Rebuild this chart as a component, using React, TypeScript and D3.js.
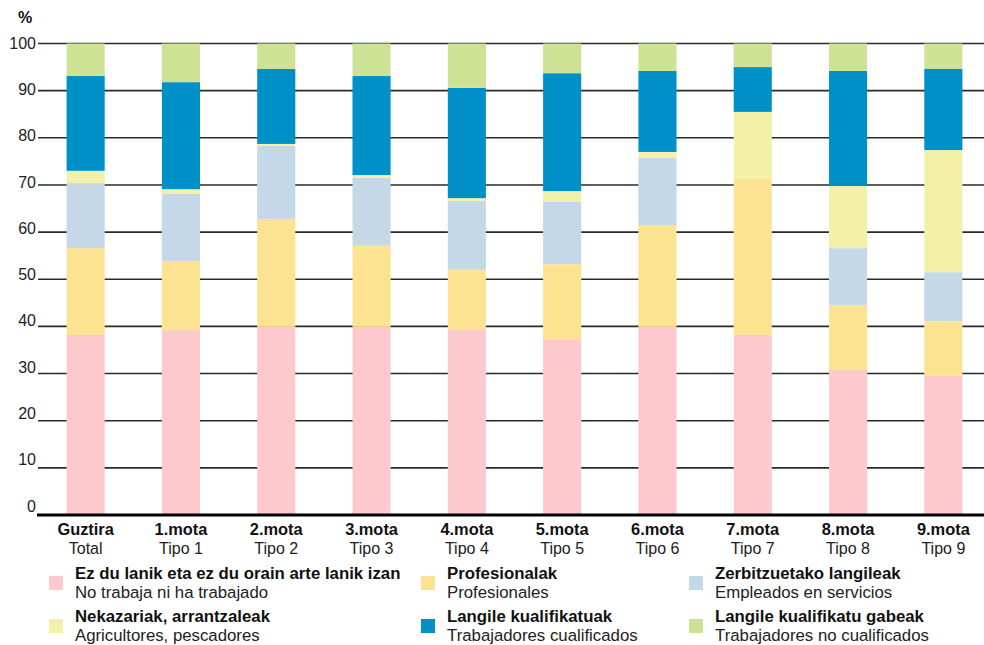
import React from "react";
import * as d3 from "d3";

const categories = ["Guztira", "1.mota", "2.mota", "3.mota", "4.mota", "5.mota", "6.mota", "7.mota", "8.mota", "9.mota"];
const categoriesEs = ["Total", "Tipo 1", "Tipo 2", "Tipo 3", "Tipo 4", "Tipo 5", "Tipo 6", "Tipo 7", "Tipo 8", "Tipo 9"];

const seriesKeys = ["noWork", "prof", "serv", "agri", "skilled", "unskilled"];
const seriesEu = [
  "Ez du lanik eta ez du orain arte lanik izan",
  "Profesionalak",
  "Zerbitzuetako langileak",
  "Nekazariak, arrantzaleak",
  "Langile kualifikatuak",
  "Langile kualifikatu gabeak",
];
const seriesEs = [
  "No trabaja ni ha trabajado",
  "Profesionales",
  "Empleados en servicios",
  "Agricultores, pescadores",
  "Trabajadores cualificados",
  "Trabajadores no cualificados",
];
const seriesColors = ["#fdc9cd", "#fce391", "#c5d8e8", "#f3f0a8", "#0090c8", "#cde295"];

const noWork = [38.2, 39.2, 39.9, 39.9, 39.4, 37.3, 39.9, 38.2, 30.8, 29.5];
const prof = [18.4, 14.7, 22.9, 17.2, 12.6, 15.9, 21.6, 33.1, 13.7, 11.6];
const serv = [13.8, 14.2, 15.5, 14.4, 14.6, 13.2, 14.2, 0.0, 12.1, 10.4];
const agri = [2.6, 1.0, 0.4, 0.6, 0.6, 2.3, 1.3, 14.2, 13.2, 25.9];
const skilled = [20.1, 22.7, 15.9, 21.0, 23.4, 25.0, 17.2, 9.5, 24.4, 17.2];
const unskilled = [6.9, 8.2, 5.4, 6.9, 9.4, 6.3, 5.8, 5.0, 5.8, 5.4];

const yTicks = [0, 10, 20, 30, 40, 50, 60, 70, 80, 90, 100];

const W = 984;
const H = 645;
const FONT = "'Liberation Sans', Arial, Helvetica, sans-serif";

export default function App() {
  const seriesValues = [noWork, prof, serv, agri, skilled, unskilled];
  const rows = categories.map((c, i) => {
    const r: any = { cat: c };
    seriesKeys.forEach((k, s) => (r[k] = seriesValues[s][i]));
    return r;
  });
  const stacked = d3.stack().keys(seriesKeys)(rows as any);

  const x = d3.scaleBand().domain(categories).range([38, 991]).paddingInner(0.6).paddingOuter(0.3);
  const y = d3.scaleLinear().domain([0, 100]).range([515, 43.5]);
  const yLab = d3.scaleLinear().domain([0, 100]).range([506, 43]);

  const legendCols = [49, 421, 689];
  const legendRows = [576, 619];

  return (
    <svg width={W} height={H} style={{ position: "absolute", left: 0, top: 0, background: "#fff" }} fontFamily={FONT}>
      <text x={18} y={23} fontSize={16} fontWeight="bold" fill="#111">%</text>
      {yTicks.filter((t) => t > 0).map((t) => (
        <line key={"g" + t} x1={38} x2={W} y1={y(t)} y2={y(t)} stroke="#2a2a2a" strokeWidth={1.6} />
      ))}
      {yTicks.map((t) => (
        <text key={"t" + t} x={36} y={yLab(t)} dy="0.35em" textAnchor="end" fontSize={16} fill="#222">{t}</text>
      ))}
      {stacked.map((s, si) => (
        <g key={s.key} fill={seriesColors[si]}>
          {s.map((d: any, i: number) => (
            <rect key={i} x={x(categories[i])} width={x.bandwidth()} y={y(d[1])} height={Math.max(0, y(d[0]) - y(d[1]))} />
          ))}
        </g>
      ))}
      <line x1={37} x2={W} y1={515} y2={515} stroke="#000" strokeWidth={3} />
      {categories.map((c, i) => {
        const cx = (x(c) as number) + x.bandwidth() / 2;
        return (
          <g key={"c" + c}>
            <text x={cx} y={535} textAnchor="middle" fontSize={16.4} fontWeight="bold" fill="#111">{c}</text>
            <text x={cx} y={554} textAnchor="middle" fontSize={16} fill="#222">{categoriesEs[i]}</text>
          </g>
        );
      })}
      {seriesKeys.map((k, i) => {
        const col = i % 3;
        const row = Math.floor(i / 3);
        const lx = legendCols[col];
        const ly = legendRows[row];
        return (
          <g key={"l" + k}>
            <rect x={lx} y={ly} width={14} height={14} fill={seriesColors[i]} />
            <text x={lx + 26} y={ly + 3} fontSize={16.8} fontWeight="bold" fill="#111">{seriesEu[i]}</text>
            <text x={lx + 26} y={ly + 22} fontSize={16.8} fill="#222">{seriesEs[i]}</text>
          </g>
        );
      })}
    </svg>
  );
}
